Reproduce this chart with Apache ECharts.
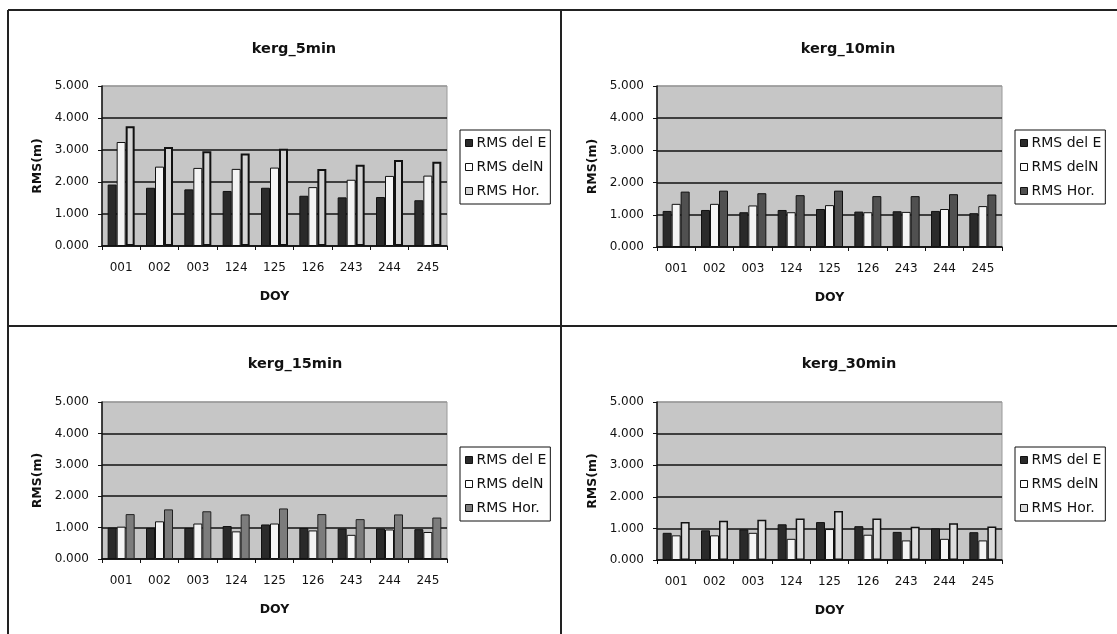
<!DOCTYPE html>
<html><head><meta charset="utf-8">
<script src="https://cdn.jsdelivr.net/npm/echarts@6/dist/echarts.min.js"></script>
<style>html,body{margin:0;padding:0;background:#fff}#c{width:1117px;height:634px}</style>
</head><body><div id="c"></div>
<script>
var categories = ['001','002','003','124','125','126','243','244','245'];
var yTicks = [0,1,2,3,4,5];
var seriesNames = ['RMS del E','RMS delN','RMS Hor.'];
var titles = ['kerg_5min','kerg_10min','kerg_15min','kerg_30min'];

var p5_E  = [1.92,1.82,1.77,1.72,1.82,1.57,1.52,1.53,1.43];
var p5_N  = [3.25,2.48,2.44,2.41,2.45,1.84,2.07,2.19,2.20];
var p5_H  = [3.74,3.09,2.96,2.89,3.04,2.41,2.54,2.69,2.63];

var p10_E = [1.12,1.15,1.08,1.15,1.18,1.10,1.11,1.12,1.05];
var p10_N = [1.34,1.34,1.29,1.08,1.30,1.08,1.09,1.18,1.27];
var p10_H = [1.72,1.75,1.67,1.61,1.75,1.58,1.58,1.64,1.63];

var p15_E = [1.00,0.99,0.99,1.05,1.10,0.99,0.97,0.97,0.95];
var p15_N = [1.03,1.20,1.13,0.88,1.13,0.91,0.77,0.94,0.86];
var p15_H = [1.43,1.58,1.52,1.42,1.61,1.43,1.27,1.42,1.32];

var p30_E = [0.86,0.94,0.97,1.13,1.20,1.07,0.89,1.00,0.88];
var p30_N = [0.78,0.78,0.86,0.67,0.98,0.80,0.62,0.67,0.62];
var p30_H = [1.20,1.24,1.27,1.31,1.55,1.31,1.05,1.16,1.06];

var panelData = [[p5_E,p5_N,p5_H],[p10_E,p10_N,p10_H],[p15_E,p15_N,p15_H],[p30_E,p30_N,p30_H]];

// layout (positions/styles)
var grids = [
  {left:102, top:86, width:345, height:160},
  {left:657, top:86, width:345, height:161},
  {left:102, top:402, width:345, height:157},
  {left:657, top:402, width:345, height:158}
];
var titlePos = [[289,37],[843,37],[290,352],[844,352]];
var legendPos = [[460,130],[1015,130],[460,447],[1015,447]];
var horStyles = [
  {color:'#d4d4d4', borderColor:'#111', borderWidth:2},
  {color:'#505050', borderColor:'#111', borderWidth:1},
  {color:'#7c7c7c', borderColor:'#222', borderWidth:1},
  {color:'#dcdcdc', borderColor:'#111', borderWidth:1.5}
];
var eStyle = {color:'#2a2a2a', borderColor:'#111', borderWidth:1};
var nStyle = {color:'#f4f4f4', borderColor:'#111', borderWidth:1};
var FONT = 'DejaVu Sans';

var option = {
  animation:false,
  backgroundColor:'#fff',
  title:[], legend:[], grid:[], xAxis:[], yAxis:[], series:[],
  graphic:[
    {type:'line', shape:{x1:8,y1:10,x2:1117,y2:10}, style:{stroke:'#222',lineWidth:2}},
    {type:'line', shape:{x1:8,y1:10,x2:8,y2:634}, style:{stroke:'#222',lineWidth:2}},
    {type:'line', shape:{x1:561,y1:10,x2:561,y2:634}, style:{stroke:'#222',lineWidth:2}},
    {type:'line', shape:{x1:8,y1:326,x2:1117,y2:326}, style:{stroke:'#222',lineWidth:2}}
  ]
};

for (var p=0;p<4;p++){
  option.title.push({
    text:titles[p], left:titlePos[p][0], top:titlePos[p][1], textAlign:'center',
    textStyle:{fontFamily:FONT, fontSize:14.5, fontWeight:'bold', color:'#111'}
  });
  option.grid.push({
    left:grids[p].left, top:grids[p].top, width:grids[p].width, height:grids[p].height,
    show:true, backgroundColor:'#c6c6c6', borderColor:'#9a9a9a', borderWidth:1
  });
  option.xAxis.push({
    type:'category', gridIndex:p, data:categories,
    name:'DOY', nameLocation:'middle', nameGap:44,
    nameTextStyle:{fontFamily:FONT, fontSize:12.5, fontWeight:'bold', color:'#111'},
    axisLine:{lineStyle:{color:'#111', width:1.5}},
    axisTick:{show:true, length:4, alignWithLabel:false, lineStyle:{color:'#111'}},
    axisLabel:{fontFamily:FONT, fontSize:12, color:'#111', margin:16}
  });
  option.yAxis.push({
    type:'value', gridIndex:p, min:yTicks[0], max:yTicks[yTicks.length-1], interval:1,
    name:'RMS(m)', nameLocation:'middle', nameGap:58, nameRotate:90,
    nameTextStyle:{fontFamily:FONT, fontSize:12.5, fontWeight:'bold', color:'#111'},
    axisLine:{show:true, lineStyle:{color:'#111', width:1.5}},
    axisTick:{show:true, length:4, lineStyle:{color:'#111'}},
    axisLabel:{fontFamily:FONT, fontSize:12, color:'#111', margin:13,
      formatter:function(v){return v.toFixed(3);}},
    splitLine:{show:true, lineStyle:{color:['#111','#111','#111','#111','#111','#9a9a9a'], width:1.6}}
  });
  var styles = [eStyle, nStyle, horStyles[p]];
  for (var s=0;s<3;s++){
    option.series.push({
      type:'bar', name:seriesNames[s], xAxisIndex:p, yAxisIndex:p,
      data:panelData[p][s], barWidth:9, barGap:'0%',
      itemStyle:styles[s]
    });
  }
  option.legend.push({
    orient:'vertical', left:legendPos[p][0], top:legendPos[p][1],
    backgroundColor:'#fff', borderColor:'#111', borderWidth:1,
    padding:[6,4,6,5], itemGap:10, itemWidth:7, itemHeight:7, icon:'rect',
    selectedMode:false,
    textStyle:{fontFamily:FONT, fontSize:14, color:'#111', padding:[0,0,0,-1]},
    data:[
      {name:seriesNames[0], itemStyle:{color:eStyle.color, borderColor:'#111', borderWidth:1}},
      {name:seriesNames[1], itemStyle:{color:'#fff', borderColor:'#111', borderWidth:1}},
      {name:seriesNames[2], itemStyle:{color:horStyles[p].color, borderColor:'#111', borderWidth:1}}
    ]
  });
}

var chart = echarts.init(document.getElementById('c'), null, {renderer:'canvas'});
chart.setOption(option);
</script>
</body></html>
